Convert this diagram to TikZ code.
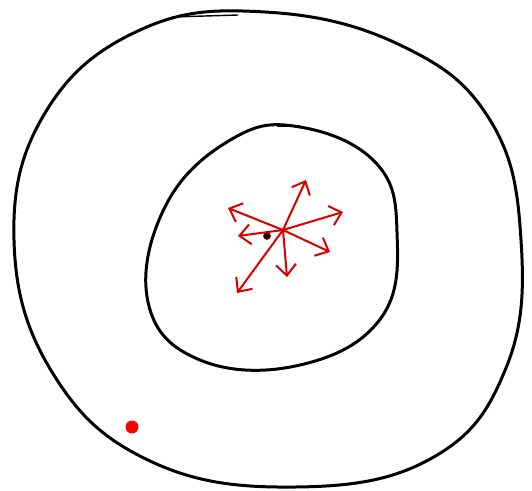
\documentclass[tikz,border=0pt]{standalone}
\usetikzlibrary{arrows.meta}
\tikzset{
 ring/.style={line width=3pt,line cap=round,line join=round},
 scribble/.style={draw=red!85!black,line width=2pt,line cap=round,line join=round,-{Straight Barb[length=11pt,width=20pt,line width=2pt]}},
 centerdot/.style={circle,fill=black,draw=red!70!black,line width=.8pt,minimum size=7pt,inner sep=0},
 reddot/.style={circle,fill=red,minimum size=13pt,inner sep=0}
}
\begin{document}
\begin{tikzpicture}[x=1pt,y=-1pt]
\useasboundingbox (0,0) rectangle (532,490);
% outer ring
\draw[ring] plot[smooth cycle,tension=.7] coordinates {(265,12) (400,45) (490,120) (521,240) (506,368) (432,458) (295,487) (150,461) (52,372) (14,240) (45,113) (140,30)};
\draw[line width=1.4pt] (172,17) -- (238,15);
% inner ring
\draw[ring] plot[smooth cycle,tension=.7] coordinates {(300,127) (376,163) (397,232) (381,318) (300,365) (200,360) (148,302) (166,205) (232,139)};
\draw[line width=1.2pt] (277,126) -- (300,126);
% star of arrows
\coordinate (c) at (283,230);
\coordinate (up) at (306,180);
\coordinate (ul) at (228,208);
\coordinate (rt) at (343,212);
\coordinate (dr) at (330,252);
\coordinate (dn) at (287,277);
\coordinate (dl) at (237,293);
\coordinate (lf) at (238,236);
\foreach \e in {up,ul,rt,dr,dn,dl,lf}
 \draw[scribble] (c) -- (\e);
\node[centerdot] (m) at (267,236) {};
% particle
\node[reddot] (p) at (132,427) {};
\end{tikzpicture}
\end{document}
